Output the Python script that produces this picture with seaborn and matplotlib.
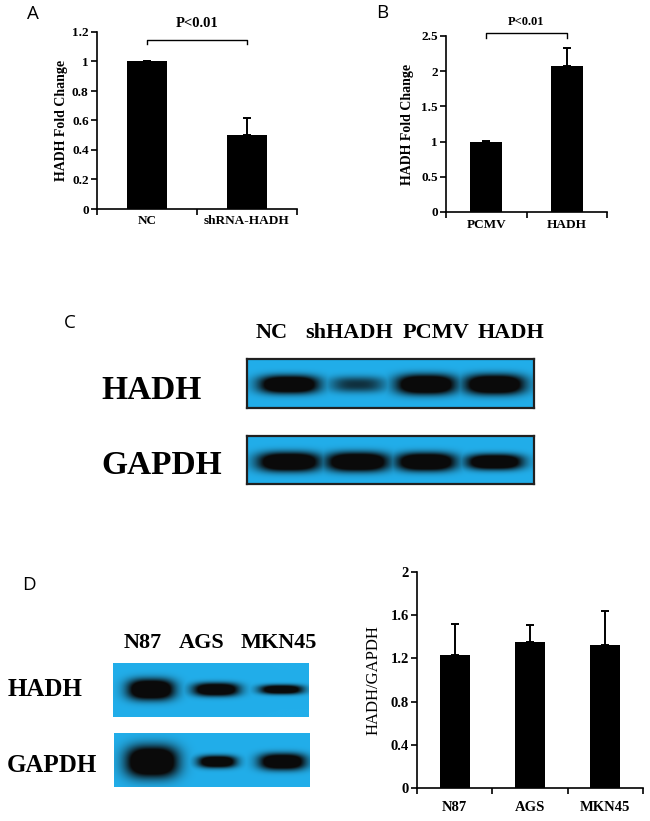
import numpy as np
import pandas as pd
import matplotlib.pyplot as plt
import seaborn as sns
from matplotlib.colors import to_rgb

# A: HADH knockdown
a_groups = ["NC", "shRNA-HADH"]
a_fold = [1.0, 0.50]
a_err = [0.005, 0.12]

# B: HADH overexpression
b_groups = ["PCMV", "HADH"]
b_fold = [1.0, 2.07]
b_err = [0.005, 0.26]

# D: cell lines
d_lines = ["N87", "AGS", "MKN45"]
d_ratio = [1.23, 1.35, 1.32]
d_err = [0.29, 0.16, 0.32]

# blots: band strength, band height (fraction of strip), band width (fraction of lane)
c_lanes = ["NC", "shHADH", "PCMV", "HADH"]
c_hadh = [1.0, 0.45, 1.0, 1.0]
c_hadh_h = [0.36, 0.32, 0.40, 0.40]
c_hadh_w = [0.88, 0.82, 0.88, 0.88]
c_gapdh = [1.0, 1.0, 1.0, 1.0]
c_gapdh_h = [0.40, 0.40, 0.38, 0.32]
c_gapdh_w = [0.92, 0.92, 0.87, 0.82]
d_hadh = [1.0, 0.95, 0.9]
d_hadh_h = [0.38, 0.24, 0.17]
d_hadh_w = [0.72, 0.71, 0.67]
d_gapdh = [1.0, 0.95, 0.95]
d_gapdh_h = [0.58, 0.22, 0.30]
d_gapdh_w = [0.80, 0.59, 0.72]

SERIF = "Liberation Serif"
W, H = 650, 821
fig = plt.figure(figsize=(6.5, 8.21), dpi=100)


def box(x0, y0, x1, y1):
    return fig.add_axes([x0 / W, 1 - y1 / H, (x1 - x0) / W, (y1 - y0) / H])


def ftext(x, y, s, **kw):
    fig.text(x / W, 1 - y / H, s, ha="center", va="center", **kw)


def bars(ax, groups, vals, errs, ymax, step, ylabel, lab_fs, tick_fs, xpad, lpad, lab_w="bold"):
    df = pd.DataFrame({"g": groups, "v": vals})
    sns.barplot(data=df, x="g", y="v", color="black", width=0.4, saturation=1,
                errorbar=None, ax=ax)
    n = len(groups)
    ax.errorbar(range(n), vals, yerr=[np.zeros(n), errs], fmt="none",
                ecolor="black", elinewidth=1.4, capsize=3, capthick=1.4)
    ax.set_xlim(-0.5, n - 0.5)
    ax.set_ylim(0, ymax)
    ax.set_xticks(range(n), groups)
    ax.set_xticks(np.arange(n + 1) - 0.5, minor=True)
    ticks = np.arange(0, ymax + 1e-9, step)
    ax.set_yticks(ticks, [f"{t:g}" for t in ticks])
    ax.tick_params(axis="x", which="major", length=0, pad=xpad)
    ax.tick_params(axis="x", which="minor", length=4, width=1.2)
    ax.tick_params(axis="y", length=4, width=1.2, pad=2)
    for lab in ax.get_xticklabels() + ax.get_yticklabels():
        lab.set_fontfamily(SERIF)
        lab.set_fontweight("bold")
        lab.set_fontsize(tick_fs)
    ax.set_xlabel("")
    ax.set_ylabel(ylabel, fontfamily=SERIF, fontweight=lab_w, fontsize=lab_fs, labelpad=lpad)
    sns.despine(ax=ax)
    for s in ["left", "bottom"]:
        ax.spines[s].set_linewidth(1.2)


def pbracket(ax, y, drop, ty, fs):
    ax.plot([0, 0, 1, 1], [y - drop, y, y, y - drop], color="black", lw=1, clip_on=False)
    ax.text(0.5, ty, "P<0.01", ha="center", va="center", fontfamily=SERIF,
            fontweight="bold", fontsize=fs, clip_on=False)


blue = np.array(to_rgb("#22aeea"))


def blot(ax, strength, heights, widths, x0, x1, yc, border=False):
    xs = np.linspace(x0, x1, 500)
    ys = np.linspace(0, 1, 120)
    X, Y = np.meshgrid(xs, ys)
    dark = np.zeros_like(X)
    for i, (s, h, w) in enumerate(zip(strength, heights, widths)):
        p = np.exp(-np.abs((X - i) / (w / 2)) ** 3) * np.exp(-np.abs((Y - yc) / (h / 2)) ** 2.5)
        dark = np.maximum(dark, np.clip(1.7 * s * p, 0, 1))
    img = blue * (1 - dark[..., None]) + 0.04 * dark[..., None]
    ax.imshow(img, extent=(x0, x1, 0, 1), aspect="auto", origin="lower", interpolation="bilinear")
    ax.set_xticks([])
    ax.set_yticks([])
    for s in ax.spines.values():
        s.set_visible(border)
        s.set_linewidth(1.6)
        s.set_color("#202020")


# panel A
axA = box(97, 32, 297, 209)
bars(axA, a_groups, a_fold, a_err, 1.2, 0.2, "HADH Fold Change", 10, 9.5, 4, 3)
pbracket(axA, 1.146, 0.025, 1.26, 10.5)
ftext(33, 14, "A", fontfamily="Open Sans", fontsize=13.5)

# panel B
axB = box(446, 36, 607, 212)
bars(axB, b_groups, b_fold, b_err, 2.5, 0.5, "HADH Fold Change", 10, 9.5, 5, 5)
pbracket(axB, 2.54, 0.07, 2.70, 9)
ftext(382, 13, "B", fontfamily="Open Sans", fontsize=13.5)

# panel C blots
ftext(70, 323, "C", fontfamily="Open Sans", fontsize=13.5)
for x, s in zip([272, 349, 436, 511], c_lanes):
    ftext(x, 333, s, fontfamily=SERIF, fontweight="bold", fontsize=16)
axC1 = box(247, 359, 534, 408)
blot(axC1, c_hadh, c_hadh_h, c_hadh_w, -0.61, 3.57, 0.47, border=True)
axC2 = box(247, 436, 534, 484)
blot(axC2, c_gapdh, c_gapdh_h, c_gapdh_w, -0.61, 3.57, 0.46, border=True)
ftext(152, 390, "HADH", fontfamily=SERIF, fontweight="bold", fontsize=24)
ftext(162, 465, "GAPDH", fontfamily=SERIF, fontweight="bold", fontsize=24)

# panel D blots
ftext(29, 585, "D", fontfamily="Open Sans", fontsize=13.5)
for x, s in zip([143, 202, 279], d_lines):
    ftext(x, 643, s, fontfamily=SERIF, fontweight="bold", fontsize=16)
axD1 = box(113, 663, 309, 717)
blot(axD1, d_hadh, d_hadh_h, d_hadh_w, -0.58, 2.42, 0.5)
axD2 = box(114, 733, 310, 787)
blot(axD2, d_gapdh, d_gapdh_h, d_gapdh_w, -0.58, 2.42, 0.46)
ftext(45, 689, "HADH", fontfamily=SERIF, fontweight="bold", fontsize=18)
ftext(52, 765, "GAPDH", fontfamily=SERIF, fontweight="bold", fontsize=18)

# panel D bars
axD = box(417, 572, 643, 788)
bars(axD, d_lines, d_ratio, d_err, 2.0, 0.4, "HADH/GAPDH", 12, 10.5, 9, 6, lab_w="normal")

fig.savefig("out.png", dpi=100)
